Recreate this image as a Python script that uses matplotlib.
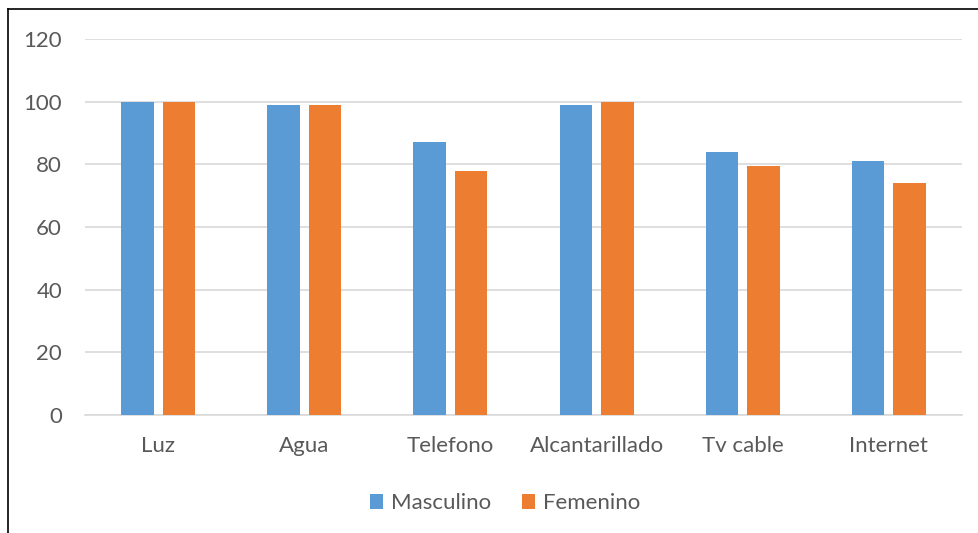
import matplotlib.pyplot as plt
from matplotlib.lines import Line2D
import numpy as np

categories = ["Luz", "Agua", "Telefono", "Alcantarillado", "Tv cable", "Internet"]
masculino = [100, 99, 87, 99, 84, 81]
femenino = [100, 99, 78, 100, 79.5, 74]
yticks = [0, 20, 40, 60, 80, 100, 120]

plt.rcParams['font.family'] = ['Lato', 'DejaVu Sans']
text_color = "#595959"

fig = plt.figure(figsize=(9.79, 5.33), dpi=100)
ax = fig.add_axes([0.0868, 0.2214, 0.8958, 0.7054])

x = np.arange(len(categories))
w = 0.223
off = 0.142
ax.bar(x - off, masculino, w, color="#5B9BD5", label="Masculino", zorder=3)
ax.bar(x + off, femenino, w, color="#ED7D31", label="Femenino", zorder=3)

ax.set_xlim(-0.5, len(categories) - 0.5)
ax.set_ylim(0, 120)
ax.set_yticks(yticks)
ax.set_xticks(x)
ax.set_xticklabels(categories)
ax.grid(axis="y", color="#D9D9D9", linewidth=1.2, zorder=0)
for s in ["top", "right", "left"]:
    ax.spines[s].set_visible(False)
ax.spines["bottom"].set_color("#D9D9D9")
ax.spines["bottom"].set_linewidth(1.2)
ax.tick_params(axis="both", length=0, labelsize=16, labelcolor=text_color)
ax.tick_params(axis="y", pad=16.5)
ax.tick_params(axis="x", pad=15)

ax.legend(loc="center", bbox_to_anchor=(0.479, -0.235), ncol=2, frameon=False,
          fontsize=16, labelcolor=text_color, handlelength=0.6, handleheight=0.6,
          handletextpad=0.35, columnspacing=1.4)

# chart frame (left and top edges visible in the reference)
fig.add_artist(Line2D([8.5 / 979, 8.5 / 979], [0, 1 - 9 / 533], color="black", linewidth=1.2,
                      transform=fig.transFigure))
fig.add_artist(Line2D([8.5 / 979, 1], [1 - 9 / 533, 1 - 9 / 533], color="black", linewidth=1.2,
                      transform=fig.transFigure))

fig.savefig("out.png", dpi=100)
